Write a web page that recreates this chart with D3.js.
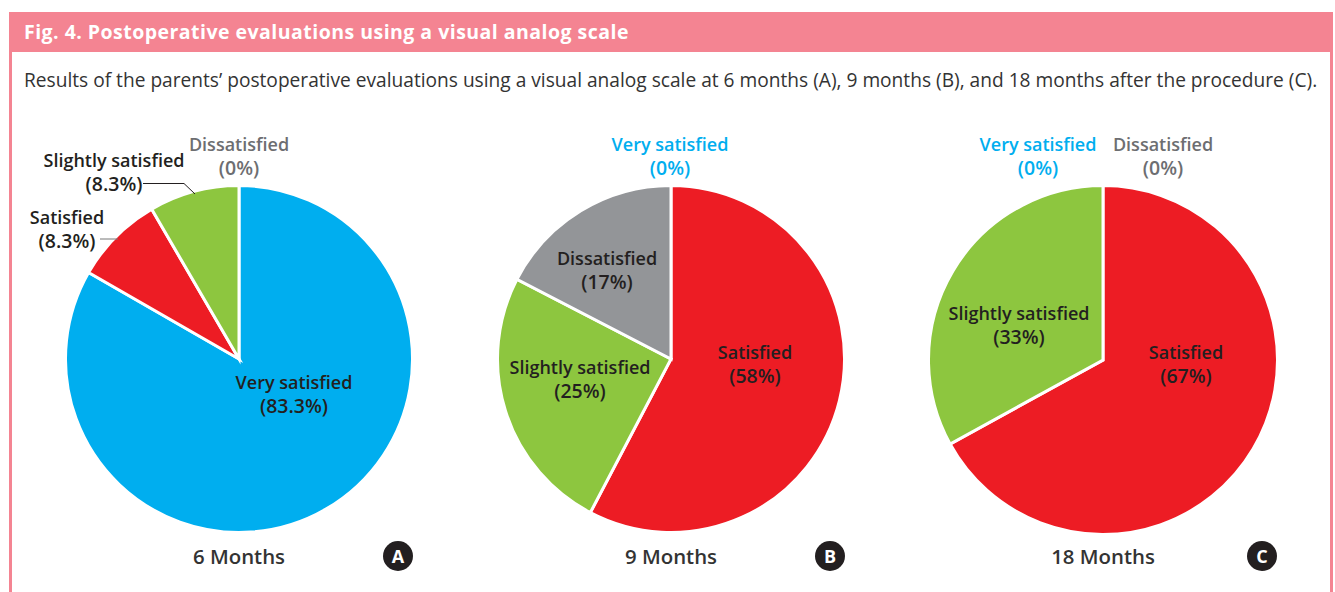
<!DOCTYPE html>
<html><head><meta charset="utf-8">
<script src="https://cdn.jsdelivr.net/npm/d3@7/dist/d3.min.js"></script>
<style>html,body{margin:0;padding:0;background:#fff}svg{display:block}text{font-family:"Open Sans",sans-serif}</style>
</head><body><svg id="c" width="1335" height="592"></svg>
<script>
const title = "Fig. 4. Postoperative evaluations using a visual analog scale";
const caption = "Results of the parents\u2019 postoperative evaluations using a visual analog scale at 6 months (A), 9 months (B), and 18 months after the procedure (C).";
const categories = ["Very satisfied","Satisfied","Slightly satisfied","Dissatisfied"];
const colors = ["#00aeef","#ed1c24","#8dc63f","#939598"];
const panelNames = ["6 Months","9 Months","18 Months"];
const panelLetters = ["A","B","C"];
const valuesA = [83.3,8.3,8.4,0];
const valuesB = [0,57.7,24.9,17.4];
const valuesC = [0,67,33,0];
const pctA = ["83.3%","8.3%","8.3%","0%"];
const pctB = ["0%","58%","25%","17%"];
const pctC = ["0%","67%","33%","0%"];

const svg = d3.select("#c");
const pink = "#f48492";
svg.append("rect").attr("x",9).attr("y",12).attr("width",1324).attr("height",40).attr("fill",pink);
svg.append("rect").attr("x",9).attr("y",52).attr("width",3).attr("height",540).attr("fill",pink);
svg.append("rect").attr("x",1330).attr("y",52).attr("width",3).attr("height",540).attr("fill",pink);
svg.append("text").attr("x",24).attr("y",38.5).attr("fill","#fff").attr("font-size",19.5).attr("font-weight",700)
  .attr("letter-spacing",0.47).text(title);
const cap = svg.append("text").attr("x",24).attr("y",87).attr("fill","#333").attr("font-size",20).text(caption);
cap.attr("font-size",20*1294/cap.node().getComputedTextLength());

const panels = [
 {cx:239,cy:359,r:173.5,vals:valuesA,pct:pctA,name:panelNames[0],letter:panelLetters[0],capX:239,bx:398,
  labels:[{i:0,x:294,y:389,c:"#231f20"},{i:1,x:67,y:224,c:"#231f20"},{i:2,x:114,y:167,c:"#231f20"},{i:3,x:239,y:151,c:"#6d6e71"}],
  leaders:[{p:[[143,183.5],[184,183.5],[195,194]],c:"#231f20"},{p:[[100,239],[118,239]],c:"#777"}]},
 {cx:671,cy:359,r:173.5,vals:valuesB,pct:pctB,name:panelNames[1],letter:panelLetters[1],capX:671,bx:830,
  labels:[{i:0,x:670,y:151,c:"#00aeef"},{i:1,x:755,y:359,c:"#231f20"},{i:2,x:580,y:374,c:"#231f20"},{i:3,x:607,y:265,c:"#231f20"}],leaders:[]},
 {cx:1103,cy:360,r:174.5,vals:valuesC,pct:pctC,name:panelNames[2],letter:panelLetters[2],capX:1103,bx:1262,
  labels:[{i:0,x:1038,y:151,c:"#00aeef"},{i:1,x:1186,y:359,c:"#231f20"},{i:2,x:1019,y:320,c:"#231f20"},{i:3,x:1163,y:151,c:"#6d6e71"}],leaders:[]}
];
const pie = d3.pie().sort(null).value(d=>d);
panels.forEach(p=>{
  const arc = d3.arc().innerRadius(0).outerRadius(p.r);
  const g = svg.append("g").attr("transform",`translate(${p.cx},${p.cy})`);
  g.selectAll("path").data(pie(p.vals)).join("path").attr("d",arc)
    .attr("fill",(d,i)=>colors[i]).attr("stroke","#fff").attr("stroke-width",d=>d.value>0?3:0);
  p.leaders.forEach(l=>svg.append("path").attr("d",d3.line()(l.p)).attr("fill","none").attr("stroke",l.c).attr("stroke-width",1));
  p.labels.forEach(l=>{
    const t = svg.append("text").attr("text-anchor","middle").attr("font-size",18).attr("font-weight",600).attr("fill",l.c);
    t.append("tspan").attr("x",l.x).attr("y",l.y).text(categories[l.i]);
    t.append("tspan").attr("x",l.x).attr("y",l.y+24).attr("font-size",19.5).text("("+p.pct[l.i]+")");
  });
  svg.append("text").attr("x",p.capX).attr("y",564).attr("text-anchor","middle").attr("font-size",20.4).attr("font-weight",600).attr("fill","#333").text(p.name);
  svg.append("circle").attr("cx",p.bx).attr("cy",556).attr("r",15).attr("fill","#231f20");
  svg.append("text").attr("x",p.bx).attr("y",562.5).attr("text-anchor","middle").attr("font-size",18).attr("font-weight",700).attr("fill","#fff").text(p.letter);
});
</script></body></html>
